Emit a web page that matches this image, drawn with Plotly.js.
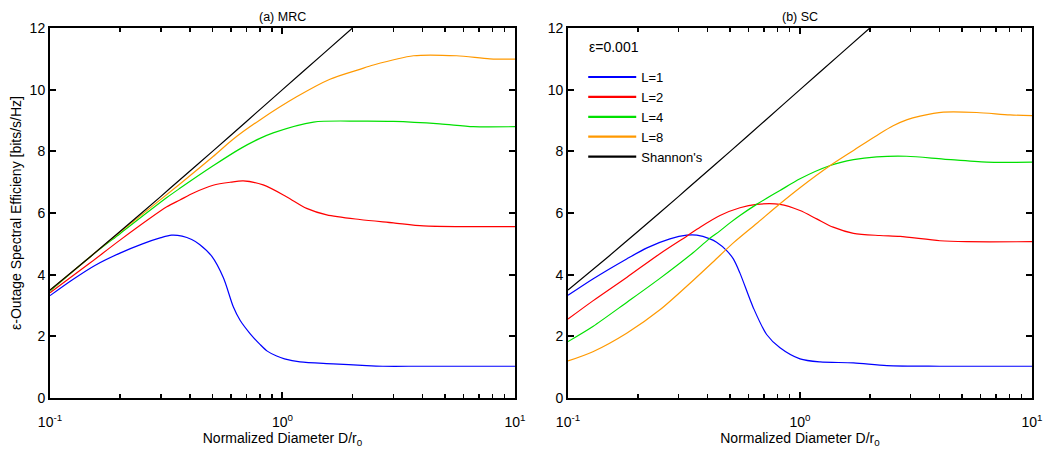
<!DOCTYPE html>
<html>
<head>
<meta charset="utf-8">
<script src="https://cdn.plot.ly/plotly-3.0.1.min.js"></script>
<style>html,body{margin:0;padding:0;background:#fff;}#chart{width:1049px;height:449px;}</style>
</head>
<body>
<div id="chart"></div>
<script>
// ---- Data ----
const seriesNames = ["L=1", "L=2", "L=4", "L=8", "Shannon's"];
const seriesColors = ["#0000ff", "#ff0000", "#00e000", "#ff9900", "#000000"];
const panelTitles = ["(a) MRC", "(b) SC"];
const legendHeader = "ε=0.001";
const xTickVals = [0.1, 1, 10];
const xTickText = ["10<sup>-1</sup>", "10<sup>0</sup>", "10<sup>1</sup>"];
const xMinorVals = [0.2, 0.3, 0.4, 0.5, 0.6, 0.7, 0.8, 0.9, 2, 3, 4, 5, 6, 7, 8, 9];

const shannonX = [0.1, 0.15, 0.2, 0.3, 0.362, 0.5, 0.7, 1.0, 1.5, 2.0];
const shannonY = [3.5, 4.6, 5.4, 6.54, 7.08, 8.0, 8.97, 10.0, 11.17, 12.0];

// (a) MRC
const mrcL1X = [0.1, 0.124, 0.156, 0.2, 0.25, 0.3, 0.333, 0.37, 0.407, 0.44, 0.496, 0.557, 0.615, 0.657, 0.725, 0.8, 0.86, 0.944, 1.02, 1.19, 1.65, 2.3, 2.7, 4.0, 10.0];
const mrcL1Y = [3.32, 3.82, 4.3, 4.7, 5.0, 5.2, 5.28, 5.25, 5.14, 4.98, 4.6, 3.9, 2.95, 2.52, 2.09, 1.74, 1.52, 1.36, 1.27, 1.17, 1.11, 1.05, 1.03, 1.03, 1.03];
const mrcL2X = [0.1, 0.15, 0.2, 0.318, 0.362, 0.414, 0.503, 0.6, 0.678, 0.826, 1.04, 1.27, 1.55, 2.15, 3.0, 4.04, 6.0, 10.0];
const mrcL2Y = [3.41, 4.4, 5.12, 6.2, 6.42, 6.65, 6.9, 7.0, 7.04, 6.91, 6.53, 6.15, 5.94, 5.79, 5.68, 5.58, 5.56, 5.56];
const mrcL4X = [0.1, 0.15, 0.2, 0.318, 0.362, 0.503, 0.656, 0.8, 0.912, 1.36, 2.15, 3.0, 4.75, 6.62, 10.0];
const mrcL4Y = [3.47, 4.6, 5.33, 6.5, 6.8, 7.53, 8.08, 8.42, 8.6, 8.95, 8.98, 8.97, 8.89, 8.8, 8.8];
const mrcL8X = [0.1, 0.15, 0.2, 0.362, 0.503, 0.615, 0.8, 1.15, 1.6, 2.15, 2.46, 3.66, 5.61, 7.8, 10.0];
const mrcL8Y = [3.49, 4.6, 5.38, 6.94, 7.83, 8.4, 9.02, 9.77, 10.34, 10.66, 10.8, 11.1, 11.1, 11.0, 10.99];

// (b) SC
const scL1X = [0.1, 0.128, 0.179, 0.219, 0.275, 0.325, 0.359, 0.409, 0.437, 0.483, 0.516, 0.551, 0.629, 0.718, 0.82, 1.0, 1.22, 1.7, 2.37, 4.0, 10.0];
const scL1Y = [3.33, 3.86, 4.51, 4.87, 5.16, 5.28, 5.28, 5.16, 5.05, 4.78, 4.51, 4.05, 2.93, 2.06, 1.63, 1.27, 1.17, 1.14, 1.05, 1.03, 1.03];
const scL2X = [0.1, 0.128, 0.179, 0.249, 0.325, 0.371, 0.452, 0.551, 0.65, 0.82, 1.0, 1.18, 1.39, 1.7, 2.21, 2.7, 4.01, 5.22, 10.0];
const scL2Y = [2.56, 3.15, 3.91, 4.68, 5.25, 5.54, 5.92, 6.17, 6.28, 6.28, 6.08, 5.81, 5.54, 5.34, 5.27, 5.24, 5.1, 5.07, 5.07];
const scL4X = [0.1, 0.128, 0.179, 0.249, 0.347, 0.4, 0.452, 0.499, 0.551, 0.65, 0.82, 1.0, 1.35, 1.7, 2.14, 2.88, 4.15, 6.38, 10.0];
const scL4Y = [1.83, 2.32, 3.1, 3.88, 4.72, 5.12, 5.42, 5.68, 5.92, 6.28, 6.73, 7.11, 7.54, 7.73, 7.82, 7.84, 7.75, 7.65, 7.65];
const scL8X = [0.1, 0.128, 0.179, 0.249, 0.347, 0.423, 0.516, 0.65, 0.82, 1.0, 1.35, 1.7, 2.21, 2.52, 2.9, 3.29, 4.15, 5.78, 8.04, 10.0];
const scL8Y = [1.2, 1.5, 2.1, 2.86, 3.82, 4.42, 5.03, 5.66, 6.3, 6.82, 7.54, 8.03, 8.58, 8.83, 9.03, 9.14, 9.27, 9.26, 9.18, 9.16];

const xTitle = "Normalized Diameter D/r<sub>0</sub>";
const yTitle = "ε-Outage Spectral Efficieny [bits/s/Hz]";

// ---- Build traces ----
const FONT = "Liberation Sans, Arial, Helvetica, sans-serif";
const TICKC = "#000000";
function tr(x, y, i, ax) {
  return {
    x: x, y: y, type: "scatter", mode: "lines",
    name: seriesNames[i], showlegend: false,
    line: {color: seriesColors[i], width: 1.2, shape: "spline", smoothing: 0.8},
    xaxis: ax === 1 ? "x" : "x2", yaxis: ax === 1 ? "y" : "y2",
    hoverinfo: "skip"
  };
}
function legendEntry(i) {
  return {
    x: [null], y: [null], type: "scatter", mode: "lines",
    name: seriesNames[i], showlegend: true,
    line: {color: seriesColors[i], width: 2.2},
    xaxis: "x2", yaxis: "y2", hoverinfo: "skip"
  };
}
function axisHolder(xa, ya) {
  return {x: [null], y: [null], type: "scatter", mode: "lines", showlegend: false, xaxis: xa, yaxis: ya, hoverinfo: "skip"};
}
const traces = [
  tr(mrcL1X, mrcL1Y, 0, 1),
  tr(mrcL2X, mrcL2Y, 1, 1),
  tr(mrcL4X, mrcL4Y, 2, 1),
  tr(mrcL8X, mrcL8Y, 3, 1),
  tr(shannonX, shannonY, 4, 1),
  tr(scL1X, scL1Y, 0, 2),
  tr(scL2X, scL2Y, 1, 2),
  tr(scL4X, scL4Y, 2, 2),
  tr(scL8X, scL8Y, 3, 2),
  tr(shannonX, shannonY, 4, 2),
  legendEntry(0), legendEntry(1), legendEntry(2), legendEntry(3), legendEntry(4),
  axisHolder("x3", "y"), axisHolder("x4", "y2")
];

function xAxis(domain, anchor) {
  return {
    type: "log", range: [-1, 1], domain: domain, anchor: anchor,
    tickmode: "array", tickvals: xTickVals, ticktext: xTickText,
    ticks: "inside", ticklen: 6, tickwidth: 2, tickcolor: TICKC,
    ticklabelstandoff: 10,
    showline: true, linecolor: "#000", linewidth: 2, mirror: "ticks",
    showgrid: false, zeroline: false,
    tickfont: {family: FONT, size: 14, color: "#000"},
    title: {text: xTitle, font: {family: FONT, size: 14, color: "#000"}, standoff: 2}
  };
}
function minorAxis(over, anchor) {
  return {
    type: "log", range: [-1, 1], overlaying: over, anchor: anchor, side: "bottom",
    tickmode: "array", tickvals: xMinorVals, showticklabels: false,
    ticks: "inside", ticklen: 4, tickwidth: 1.5, tickcolor: TICKC,
    showline: true, linecolor: "#000", linewidth: 2, mirror: "ticks",
    showgrid: false, zeroline: false
  };
}
function yAxis(anchor, withTitle) {
  const a = {
    range: [0, 12], dtick: 2, anchor: anchor,
    ticks: "inside", ticklen: 6, tickwidth: 2, tickcolor: TICKC,
    showline: true, linecolor: "#000", linewidth: 2, mirror: "ticks",
    showgrid: false, zeroline: false,
    tickfont: {family: FONT, size: 14, color: "#000"}
  };
  if (withTitle) a.title = {text: yTitle, font: {family: FONT, size: 14, color: "#000"}, standoff: 5};
  return a;
}

const layout = {
  width: 1049, height: 449,
  margin: {l: 50, r: 17, t: 28, b: 51},
  paper_bgcolor: "#fff", plot_bgcolor: "#fff",
  font: {family: FONT, size: 12, color: "#000"},
  xaxis: xAxis([0, 0.4735], "y"),
  yaxis: yAxis("x", true),
  xaxis2: xAxis([0.5275, 1], "y2"),
  yaxis2: yAxis("x2", false),
  xaxis3: minorAxis("x", "y"),
  xaxis4: minorAxis("x2", "y2"),
  showlegend: true,
  legend: {
    x: 0.543, y: 0.908, xanchor: "left", yanchor: "top",
    bgcolor: "rgba(0,0,0,0)", borderwidth: 0,
    itemwidth: 48,
    font: {family: FONT, size: 13, color: "#000"},
    tracegroupgap: 0
  },
  annotations: [
    {text: panelTitles[0], xref: "x domain", yref: "y domain", x: 0.5, y: 1, yanchor: "bottom", yshift: 2, showarrow: false, font: {family: FONT, size: 12.5, color: "#000"}},
    {text: panelTitles[1], xref: "x2 domain", yref: "y2 domain", x: 0.5, y: 1, yanchor: "bottom", yshift: 2, showarrow: false, font: {family: FONT, size: 12.5, color: "#000"}},
    {text: legendHeader, xref: "x2 domain", yref: "y2 domain", x: 0.04, y: 0.95, xanchor: "left", yanchor: "middle", showarrow: false, font: {family: FONT, size: 14, color: "#000"}}
  ]
};

Plotly.newPlot("chart", traces, layout, {displayModeBar: false, staticPlot: true});
</script>
</body>
</html>
